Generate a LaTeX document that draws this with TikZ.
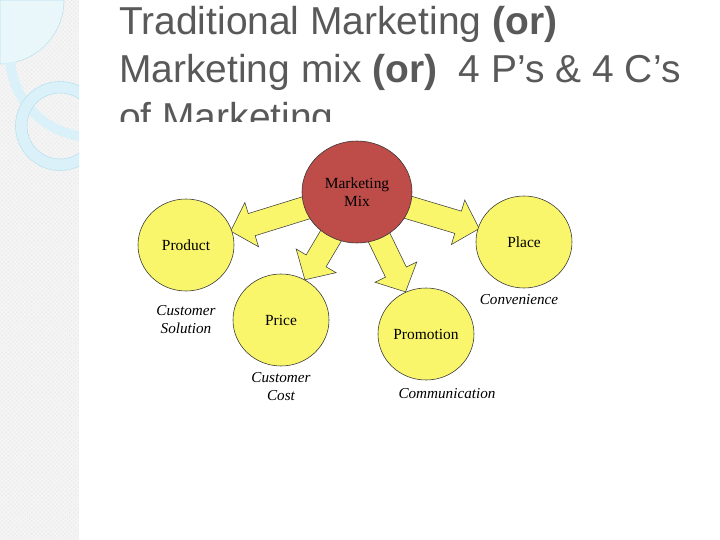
\documentclass[tikz,border=0pt]{standalone}
\usepackage{fontspec}
\setmainfont{Liberation Sans}
\newfontfamily\diagfont{Liberation Serif}
\usetikzlibrary{shapes.geometric,positioning,calc,patterns}

\definecolor{titlegray}{RGB}{89,89,89}
\definecolor{mixred}{RGB}{190,76,72}
\definecolor{pyellow}{RGB}{250,246,108}
\definecolor{decocyan}{RGB}{218,241,249}
\definecolor{decoedge}{RGB}{186,224,238}
\definecolor{stripgray}{RGB}{244,244,244}

\pgfdeclarelayer{front}
\pgfsetlayers{main,front}

% block arrow from the centre of #1 to the rim of #2
\newcommand{\mixarrow}[2]{%
  \coordinate (tip) at ($(#2.center)!1.17cm!(#1.center)$);
  \coordinate (neck) at ($(tip)!0.55cm!(#1.center)$);
  \draw[blockarrow] ($(#1.center)!0.29cm!90:(tip)$) -- ($(neck)!0.29cm!90:(tip)$)
    -- ($(neck)!0.58cm!90:(tip)$) -- (tip) -- ($(neck)!0.58cm!-90:(tip)$)
    -- ($(neck)!0.29cm!-90:(tip)$) -- ($(#1.center)!0.29cm!-90:(tip)$) -- cycle;
}

\begin{document}
\begin{tikzpicture}[
  pcircle/.style={ellipse, draw=black!80, fill=pyellow, inner sep=0pt, minimum width=2.4cm, minimum height=2.3cm, font=\diagfont\fontsize{11}{13}\selectfont},
  mixcircle/.style={ellipse, draw=black!80, fill=mixred, inner sep=0pt, align=center, minimum width=2.75cm, minimum height=2.55cm, font=\diagfont\fontsize{11}{12.8}\selectfont},
  clabel/.style={align=center, inner sep=0pt, font=\diagfont\itshape\fontsize{10.8}{12.8}\selectfont},
  blockarrow/.style={draw=black!75, fill=pyellow, line join=miter}
]

\useasboundingbox (0,0) rectangle (18,13.5);
\fill[white] (0,0) rectangle (18,13.5);

% Side strip
\fill[stripgray] (0,0) rectangle (1.975,13.5);
\fill[pattern=crosshatch dots, pattern color=black!9] (0,0) rectangle (1.975,13.5);
\begin{scope}
  \clip (0,0) rectangle (1.975,13.5);
  \filldraw[fill=decocyan!60, draw=decoedge] (0,13.5) -- (1.6,13.5) arc[start angle=0, end angle=-90, radius=1.6cm] -- cycle;
  \draw[decocyan, line width=7pt] (2.3,12.125) ++(185:2.05) arc[start angle=185, end angle=265, radius=2.05cm];
  \filldraw[fill=decocyan, draw=decoedge, even odd rule] (1.5,10.35) circle[radius=1.1125cm] (1.5,10.35) circle[radius=0.825cm];
\end{scope}

% Title
\node[anchor=north west, inner sep=0pt, align=left, text=titlegray, font=\fontsize{27.7}{34}\selectfont] (title) at (2.975,13.34)
  {Traditional Marketing \textbf{(or)}\\Marketing mix \textbf{(or)}\ \ 4 P’s \& 4 C’s\\of Marketing};

% Picture area
\fill[white] (2.75,10.45) rectangle (15.5,3.0);

% The 4 P's
\begin{pgfonlayer}{front}
  \node[mixcircle] (mix) at (8.925,8.7) {Marketing\\Mix};
  \node[pcircle] (product) at (4.65,7.375) {Product};
  \node[pcircle] (place) at (13.1,7.45) {Place};
  \node[pcircle] (price) at (7.025,5.5) {Price};
  \node[pcircle] (promotion) at (10.65,5.15) {Promotion};
\end{pgfonlayer}

% Arrows
\mixarrow{mix}{product}
\mixarrow{mix}{place}
\mixarrow{mix}{price}
\mixarrow{mix}{promotion}

% The 4 C's
\node[clabel, below=0.35cm of product] (solution) {Customer\\Solution};
\node[clabel, below=0.15cm of place, xshift=-0.125cm] (convenience) {Convenience};
\node[clabel, below=0.15cm of price] (cost) {Customer\\Cost};
\node[clabel, below=0.2cm of promotion, xshift=0.525cm] (communication) {Communication};

\end{tikzpicture}
\end{document}
